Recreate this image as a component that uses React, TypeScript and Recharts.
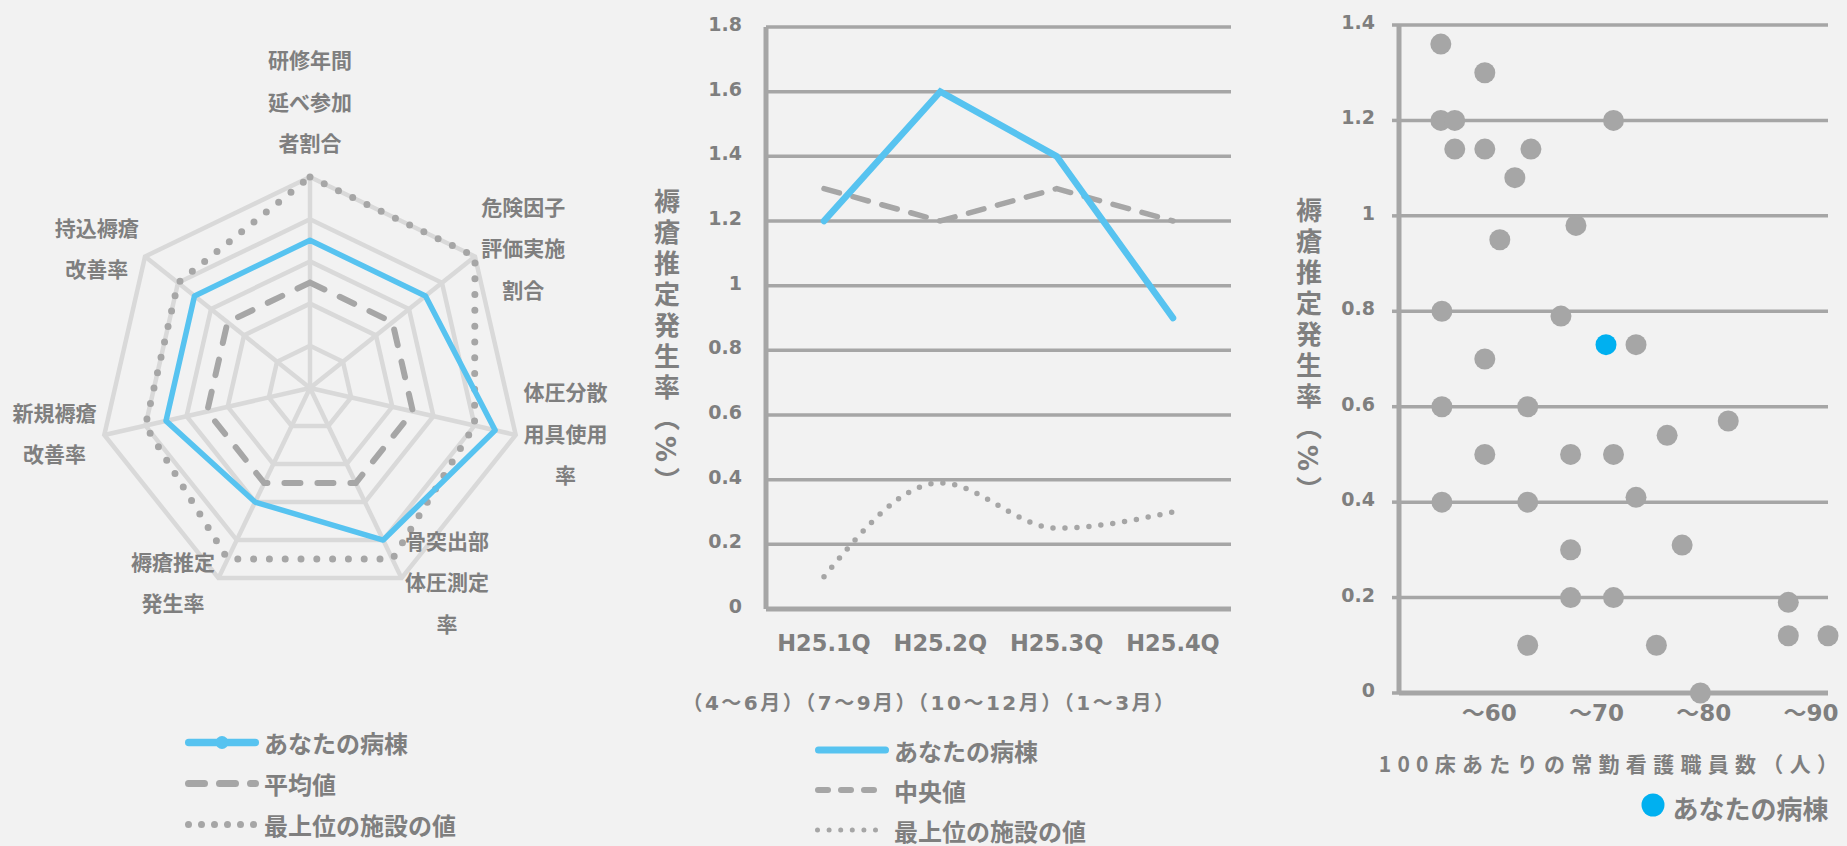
import React from 'react';
import {
  RadarChart,
  Radar,
  PolarGrid,
  PolarAngleAxis,
  PolarRadiusAxis,
  LineChart,
  Line,
  ScatterChart,
  Scatter,
  XAxis,
  YAxis,
  CartesianGrid,
  Legend,
  Label,
} from 'recharts';

// レーダー：褥瘡対策の各指標（5段階評価）
const RADAR_AXES = [
  '研修年間\n延べ参加\n者割合',
  '危険因子\n評価実施\n割合',
  '体圧分散\n用具使用\n率',
  '骨突出部\n体圧測定\n率',
  '褥瘡推定\n発生率',
  '新規褥瘡\n改善率',
  '持込褥瘡\n改善率',
];
const RADAR_MINE = [3.5, 3.5, 4.5, 4, 3, 3.5, 3.5];
const RADAR_AVERAGE = [2.5, 2.5, 2.5, 2.5, 2.5, 2.5, 2.5];
const RADAR_BEST = [5, 5, 4, 4.5, 4.5, 4, 4];

// 折れ線：四半期ごとの褥瘡推定発生率（%）
const QUARTERS = ['H25.1Q', 'H25.2Q', 'H25.3Q', 'H25.4Q'];
const QUARTER_NOTE = '（4～6月）（7～9月）（10～12月）（1～3月）';
const RATE_MINE = [1.2, 1.6, 1.4, 0.9];
const RATE_MEDIAN = [1.3, 1.2, 1.3, 1.2];
const RATE_BEST = [0.1, 0.39, 0.25, 0.3];
const RATE_TICKS = [0, 0.2, 0.4, 0.6, 0.8, 1, 1.2, 1.4, 1.6, 1.8];

// 散布図：100床あたりの常勤看護職員数と褥瘡推定発生率
const STAFF = [
  53.9, 58, 53.9, 55.2, 70, 55.2, 58, 62.3, 60.8, 66.5, 59.4, 54, 65.1, 72.1, 58, 54, 62, 80.7,
  75, 58, 66, 70, 54, 62, 72.1, 76.4, 66, 66, 70, 86.3, 86.3, 90, 62, 74, 78.1,
];
const STAFF_RATE = [
  1.36, 1.3, 1.2, 1.2, 1.2, 1.14, 1.14, 1.14, 1.08, 0.98, 0.95, 0.8, 0.79, 0.73, 0.7, 0.6, 0.6, 0.57,
  0.54, 0.5, 0.5, 0.5, 0.4, 0.4, 0.41, 0.31, 0.3, 0.2, 0.2, 0.19, 0.12, 0.12, 0.1, 0.1, 0,
];
const MY_STAFF = 69.3;
const MY_RATE = 0.73;
const STAFF_TICKS = [60, 70, 80, 90];
const SCATTER_TICKS = [0, 0.2, 0.4, 0.6, 0.8, 1, 1.2, 1.4];

const TEXT = '#7f7f7f';
const GRID = '#a6a6a6';
const RADAR_GRID = '#d9d9d9';
const SKY = '#57c3f0';
const MY_DOT = '#00b0f0';
const FONT = '"DejaVu Sans", "Noto Sans CJK JP", sans-serif';
const JP_FONT = '"Noto Sans CJK JP", sans-serif';

const RADAR_CX = 310;
const RADAR_CY = 388;
const RADAR_FONT = 21;
const RADAR_LINE = 41.5;

const radarData = RADAR_AXES.map((axis, i) => ({
  axis,
  mine: RADAR_MINE[i],
  average: RADAR_AVERAGE[i],
  best: RADAR_BEST[i],
}));

const rateData = QUARTERS.map((q, i) => ({
  q,
  mine: RATE_MINE[i],
  median: RATE_MEDIAN[i],
  best: RATE_BEST[i],
}));

const facilities = STAFF.map((x, i) => ({ x, y: STAFF_RATE[i] }));
const myWard = [{ x: MY_STAFF, y: MY_RATE }];

const fmt = (v: number) => String(Math.round(v * 10) / 10);

type Swatch = { name: string; color: string; width: number; dash?: string; marker?: number };

const LegendRows = ({ rows, rowH, fontSize }: { rows: Swatch[]; rowH: number; fontSize: number }) => (
  <svg width={360} height={rows.length * rowH} style={{ display: 'block', overflow: 'visible' }}>
    {rows.map((r, i) => {
      const cy = rowH * (i + 0.5);
      return (
        <g key={r.name}>
          <line
            x1={5 + r.width / 2}
            x2={79 - r.width / 2}
            y1={cy}
            y2={cy}
            stroke={r.color}
            strokeWidth={r.width}
            strokeDasharray={r.dash}
            strokeLinecap="round"
          />
          {r.marker ? <circle cx={42} cy={cy} r={r.marker} fill={r.color} /> : null}
          <text x={84} y={cy} dominantBaseline="central" fill={TEXT} fontSize={fontSize} fontWeight={700} fontFamily={JP_FONT}>
            {r.name}
          </text>
        </g>
      );
    })}
  </svg>
);

// 軸ラベルは頂点の外側に、複数行を中央揃えで置く
const RadarTick = ({ x, y, payload }: any) => {
  const lines = String(payload.value).split('\n');
  const blockW = Math.max(...lines.map((l) => l.length)) * RADAR_FONT;
  let midX = x;
  let firstY: number;
  if (Math.abs(x - RADAR_CX) < 4) {
    firstY = y - 27 - (lines.length - 1) * RADAR_LINE;
  } else {
    midX = x > RADAR_CX ? x + blockW / 2 : x - blockW / 2;
    firstY = y - 4 - ((lines.length - 1) * RADAR_LINE) / 2;
  }
  return (
    <text textAnchor="middle" dominantBaseline="central" fill={TEXT} fontSize={RADAR_FONT} fontWeight={700} fontFamily={JP_FONT}>
      {lines.map((l, i) => (
        <tspan key={i} x={midX} y={firstY + i * RADAR_LINE}>
          {l}
        </tspan>
      ))}
    </text>
  );
};

const ValueTick = ({ x, y, payload }: any) => (
  <text x={x} y={y - 3} textAnchor="end" dominantBaseline="central" fill={TEXT} fontSize={19} fontWeight={700} fontFamily={FONT}>
    {fmt(payload.value)}
  </text>
);

const QuarterTick = ({ x, y, payload }: any) => (
  <text x={x} y={y + 34} textAnchor="middle" dominantBaseline="central" fill={TEXT} fontSize={22.5} fontWeight={700} fontFamily={FONT}>
    {payload.value}
  </text>
);

const StaffTick = ({ x, y, payload }: any) => (
  <text x={x - 17} y={y + 19.5} textAnchor="middle" dominantBaseline="central" fill={TEXT} fontSize={23} fontWeight={700} fontFamily={FONT}>
    {'～' + payload.value}
  </text>
);

const VerticalTitle = ({ x, y }: { x: number; y: number }) => (
  <text
    x={x}
    y={y}
    fill={TEXT}
    fontSize={26}
    fontWeight={700}
    fontFamily={FONT}
    style={{ writingMode: 'vertical-rl', letterSpacing: '5px' }}
  >
    褥瘡推定発生率（%）
  </text>
);

const dotShape = (p: any) => <circle cx={p.cx} cy={p.cy} r={10.5} fill={p.fill} />;

const radarLegend: Swatch[] = [
  { name: 'あなたの病棟', color: SKY, width: 7.5, marker: 6.5 },
  { name: '平均値', color: GRID, width: 7, dash: '16 15' },
  { name: '最上位の施設の値', color: GRID, width: 7, dash: '0 13' },
];

const rateLegend: Swatch[] = [
  { name: 'あなたの病棟', color: SKY, width: 7 },
  { name: '中央値', color: GRID, width: 6, dash: '10 13' },
  { name: '最上位の施設の値', color: GRID, width: 5, dash: '0 11.6' },
];

export default function App() {
  return (
    <div
      style={{
        position: 'absolute',
        left: 0,
        top: 0,
        width: 1847,
        height: 846,
        background: '#f2f2f2',
        overflow: 'hidden',
      }}
    >
      <div style={{ position: 'absolute', left: 0, top: 0 }}>
        <RadarChart width={620} height={846} data={radarData} cx={RADAR_CX} cy={RADAR_CY} outerRadius={211}>
          <PolarGrid gridType="polygon" stroke={RADAR_GRID} strokeWidth={4.5} />
          <PolarAngleAxis dataKey="axis" tick={RadarTick} tickLine={false} axisLine={false} tickSize={8} />
          <PolarRadiusAxis angle={90} domain={[0, 5]} tickCount={6} tick={false} axisLine={false} />
          <Radar
            name="最上位の施設の値"
            dataKey="best"
            stroke={GRID}
            strokeWidth={7}
            strokeDasharray="0 15.8"
            strokeLinecap="round"
            fill="none"
            fillOpacity={0}
            dot={false}
            isAnimationActive={false}
          />
          <Radar
            name="平均値"
            dataKey="average"
            stroke={GRID}
            strokeWidth={6}
            strokeDasharray="16 17"
            strokeLinecap="round"
            fill="none"
            fillOpacity={0}
            dot={false}
            isAnimationActive={false}
          />
          <Radar
            name="あなたの病棟"
            dataKey="mine"
            stroke={SKY}
            strokeWidth={5.5}
            strokeLinejoin="round"
            fill="none"
            fillOpacity={0}
            dot={{ r: 6, fill: SKY, stroke: SKY, strokeWidth: 0 }}
            isAnimationActive={false}
          />
          <Legend
            layout="horizontal"
            verticalAlign="middle"
            align="center"
            wrapperStyle={{ left: 180, top: 721.5, width: 360 }}
            content={() => <LegendRows rows={radarLegend} rowH={41} fontSize={24} />}
          />
        </RadarChart>
      </div>

      <div style={{ position: 'absolute', left: 640, top: 0 }}>
        <LineChart width={620} height={846} data={rateData} margin={{ top: 27, right: 29, bottom: 0, left: 0 }}>
          <CartesianGrid vertical={false} stroke={GRID} strokeWidth={3.5} />
          <XAxis
            dataKey="q"
            scale="point"
            padding={{ left: 58, right: 58 }}
            height={237}
            tickSize={0}
            tickMargin={0}
            tickLine={false}
            axisLine={{ stroke: GRID, strokeWidth: 5 }}
            tick={QuarterTick}
            interval={0}
          >
            <Label
              content={(p: any) => (
                <text
                  x={p.viewBox.x + p.viewBox.width / 2 - 69}
                  y={p.viewBox.y + 94}
                  textAnchor="middle"
                  dominantBaseline="central"
                  fill={TEXT}
                  fontSize={20}
                  fontWeight={700}
                  fontFamily={FONT}
                  style={{ letterSpacing: '2.5px' }}
                >
                  {QUARTER_NOTE}
                </text>
              )}
            />
          </XAxis>
          <YAxis
            domain={[0, 1.8]}
            ticks={RATE_TICKS}
            interval={0}
            width={126}
            tickSize={0}
            tickMargin={24}
            tickLine={false}
            axisLine={{ stroke: GRID, strokeWidth: 5 }}
            tick={ValueTick}
          >
            <Label content={(p: any) => <VerticalTitle x={p.viewBox.x + 24.5} y={p.viewBox.y + 161} />} />
          </YAxis>
          <Line
            name="最上位の施設の値"
            dataKey="best"
            type="monotone"
            stroke={GRID}
            strokeWidth={5.5}
            strokeDasharray="0 12"
            strokeLinecap="round"
            dot={false}
            activeDot={false}
            isAnimationActive={false}
          />
          <Line
            name="中央値"
            dataKey="median"
            type="linear"
            stroke={GRID}
            strokeWidth={5.5}
            strokeDasharray="16 14"
            strokeLinecap="round"
            dot={false}
            activeDot={false}
            isAnimationActive={false}
          />
          <Line
            name="あなたの病棟"
            dataKey="mine"
            type="linear"
            stroke={SKY}
            strokeWidth={6.5}
            strokeLinecap="round"
            dot={false}
            activeDot={false}
            isAnimationActive={false}
          />
          <Legend
            layout="horizontal"
            verticalAlign="middle"
            align="center"
            wrapperStyle={{ left: 170, top: 730, width: 360 }}
            content={() => <LegendRows rows={rateLegend} rowH={40} fontSize={24} />}
          />
        </LineChart>
      </div>

      <div style={{ position: 'absolute', left: 1260, top: 0 }}>
        <ScatterChart width={587} height={846} margin={{ top: 25, right: 19, bottom: 0, left: 0 }}>
          <CartesianGrid vertical={false} stroke={GRID} strokeWidth={3.5} />
          <XAxis
            type="number"
            dataKey="x"
            domain={[50, 90]}
            ticks={STAFF_TICKS}
            interval={0}
            height={153}
            tickSize={0}
            tickMargin={0}
            tickLine={false}
            axisLine={{ stroke: GRID, strokeWidth: 5 }}
            tick={StaffTick}
          >
            <Label
              content={(p: any) => (
                <text
                  x={p.viewBox.x + p.viewBox.width / 2 - 2}
                  y={p.viewBox.y + 70}
                  textAnchor="middle"
                  dominantBaseline="central"
                  fill={TEXT}
                  fontSize={21}
                  fontWeight={700}
                  fontFamily={JP_FONT}
                  style={{ letterSpacing: '6.3px' }}
                >
                  100床あたりの常勤看護職員数（人）
                </text>
              )}
            />
          </XAxis>
          <YAxis
            type="number"
            dataKey="y"
            domain={[0, 1.4]}
            ticks={SCATTER_TICKS}
            interval={0}
            width={139}
            tickSize={7}
            tickMargin={17}
            tickLine={{ stroke: GRID, strokeWidth: 3.5 }}
            axisLine={{ stroke: GRID, strokeWidth: 5 }}
            tick={ValueTick}
          >
            <Label content={(p: any) => <VerticalTitle x={p.viewBox.x + 46.5} y={p.viewBox.y + 172} />} />
          </YAxis>
          <Scatter name="施設" data={facilities} fill={GRID} shape={dotShape} isAnimationActive={false} />
          <Scatter name="あなたの病棟" data={myWard} fill={MY_DOT} shape={dotShape} isAnimationActive={false} />
          <Legend
            layout="horizontal"
            verticalAlign="middle"
            align="center"
            wrapperStyle={{ left: 381, top: 784, width: 200 }}
            content={() => (
              <svg width={200} height={44} style={{ display: 'block', overflow: 'visible' }}>
                <circle cx={12} cy={21} r={11.5} fill={MY_DOT} />
                <text x={31.5} y={23} dominantBaseline="central" fill={TEXT} fontSize={26} fontWeight={700} fontFamily={JP_FONT}>
                  あなたの病棟
                </text>
              </svg>
            )}
          />
        </ScatterChart>
      </div>
    </div>
  );
}
